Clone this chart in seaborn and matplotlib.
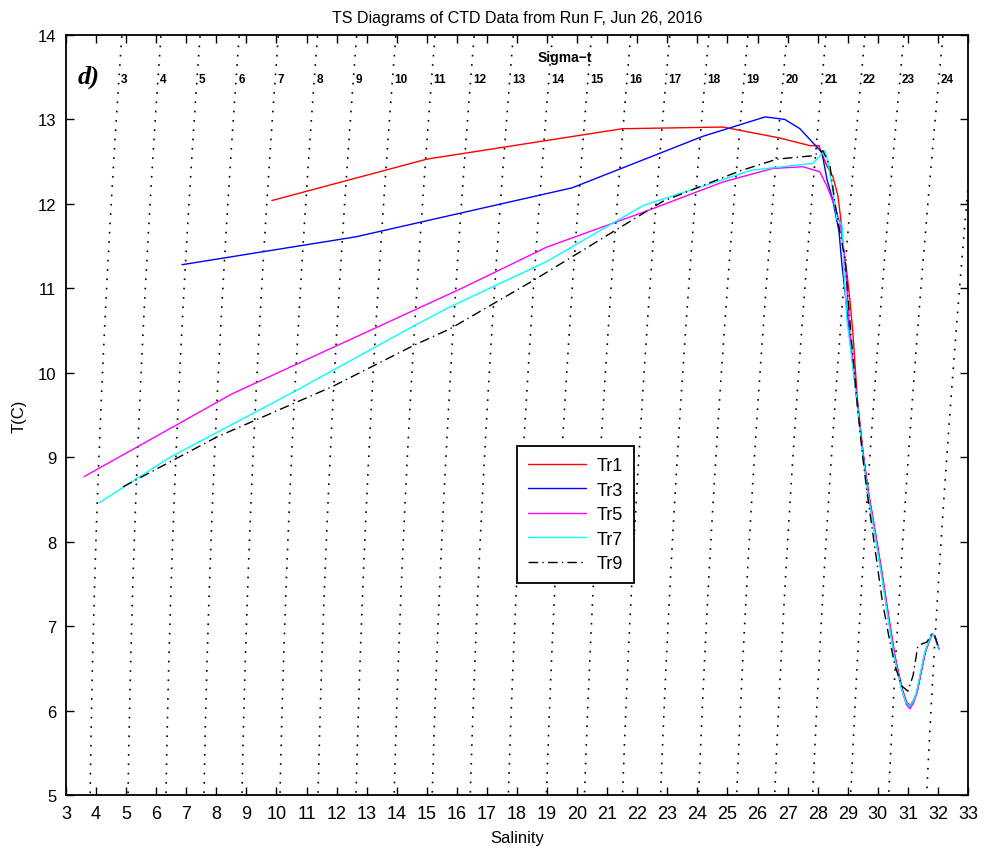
import numpy as np
import pandas as pd
import matplotlib
matplotlib.use("Agg")
import matplotlib.pyplot as plt
import seaborn as sns

# ---------------- data ----------------
tr1_S = [9.85, 15.0, 21.5, 24.85, 26.74, 27.74, 28.04, 28.14, 28.31, 28.51, 28.67, 28.77, 28.84, 28.97,
         29.07, 29.17, 29.32, 29.51, 29.69, 29.92, 30.16, 30.36, 30.59, 30.82, 30.96, 31.08, 31.20, 31.31,
         31.58, 31.80, 31.90, 32.03]
tr1_T = [12.04, 12.53, 12.89, 12.91, 12.78, 12.69, 12.69, 12.59, 12.45, 12.32, 12.10, 11.82, 11.50, 11.19,
         10.87, 10.48, 9.69, 9.06, 8.59, 8.11, 7.59, 7.12, 6.61, 6.25, 6.10, 6.06, 6.13, 6.22,
         6.69, 6.91, 6.88, 6.73]

tr3_S = [6.86, 12.64, 19.83, 24.18, 26.25, 26.91, 27.41, 28.14, 28.31, 28.50, 28.71, 28.81, 28.91,
         29.05, 29.30, 29.50, 29.67, 29.90, 30.14, 30.34, 30.57, 30.80, 30.95, 31.07, 31.20, 31.30,
         31.57, 31.80, 31.90, 32.03]
tr3_T = [11.28, 11.61, 12.19, 12.80, 13.03, 13.00, 12.89, 12.61, 12.29, 12.05, 11.67, 11.27, 10.96,
         10.48, 9.69, 9.06, 8.59, 8.11, 7.59, 7.12, 6.61, 6.25, 6.09, 6.05, 6.12, 6.22,
         6.69, 6.91, 6.88, 6.73]

tr5_S = [3.60, 8.52, 11.88, 16.10, 19.00, 22.19, 24.85, 26.51, 27.51, 28.07, 28.31, 28.57, 28.77, 28.92,
         29.07, 29.30, 29.50, 29.68, 29.91, 30.15, 30.35, 30.58, 30.81, 30.95, 31.07, 31.20, 31.30,
         31.57, 31.80, 31.90, 32.03]
tr5_T = [8.77, 9.75, 10.30, 10.99, 11.49, 11.90, 12.26, 12.42, 12.44, 12.38, 12.21, 11.97, 11.74, 11.30,
         10.48, 9.69, 9.06, 8.59, 8.11, 7.59, 7.12, 6.61, 6.24, 6.07, 6.02, 6.10, 6.21,
         6.69, 6.91, 6.88, 6.73]

tr7_S = [4.10, 6.46, 10.55, 14.54, 15.77, 19.00, 22.19, 25.81, 27.84, 28.24, 28.34, 28.51, 28.64, 28.81,
         28.84, 28.87, 28.97, 29.30, 29.49, 29.66, 29.89, 30.13, 30.33, 30.56, 30.79, 30.94, 31.06,
         31.19, 31.29, 31.56, 31.79, 31.89, 32.02]
tr7_T = [8.46, 9.00, 9.77, 10.55, 10.78, 11.32, 11.98, 12.40, 12.48, 12.63, 12.50, 12.14, 11.82, 11.75,
         11.58, 11.23, 10.64, 9.69, 9.06, 8.59, 8.11, 7.59, 7.12, 6.61, 6.25, 6.10, 6.05,
         6.12, 6.22, 6.69, 6.91, 6.88, 6.73]

tr9_S = [4.90, 8.02, 11.88, 14.54, 15.77, 18.53, 22.85, 25.41, 26.65, 27.84, 28.17, 28.41, 28.57, 28.74,
         28.91, 29.00, 29.10, 29.30, 29.48, 29.64, 29.83, 30.14, 30.34, 30.57, 30.80, 31.00, 31.17,
         31.33, 31.47, 31.63, 31.80, 31.90, 32.03]
tr9_T = [8.65, 9.24, 9.84, 10.32, 10.52, 11.09, 12.03, 12.39, 12.53, 12.57, 12.63, 12.45, 12.02, 11.67,
         11.35, 10.96, 10.48, 9.69, 9.06, 8.59, 8.11, 7.32, 6.93, 6.53, 6.29, 6.23, 6.41,
         6.76, 6.79, 6.81, 6.91, 6.88, 6.73]

series_names = ["Tr1", "Tr3", "Tr5", "Tr7", "Tr9"]
series_S = [tr1_S, tr3_S, tr5_S, tr7_S, tr9_S]
series_T = [tr1_T, tr3_T, tr5_T, tr7_T, tr9_T]
series_colors = ["#ff0000", "#0000ff", "#ff00ff", "#00ffff", "#000000"]
series_styles = ["-", "-", "-", "-", (0, (7, 3, 1, 3))]

sigma_levels = list(range(3, 25))          # labelled sigma-t contours
contour_levels = list(range(3, 26))        # contours drawn
xticks = list(range(3, 34))
yticks = list(range(5, 15))

title = "TS Diagrams of CTD Data from Run F, Jun 26, 2016"


# ---------------- sigma-t (UNESCO EOS-80, p = 0) ----------------
def sigma_t(S, T):
    rho_w = (999.842594 + 6.793952e-2 * T - 9.095290e-3 * T**2 + 1.001685e-4 * T**3
             - 1.120083e-6 * T**4 + 6.536332e-9 * T**5)
    A = 8.24493e-1 - 4.0899e-3 * T + 7.6438e-5 * T**2 - 8.2467e-7 * T**3 + 5.3875e-9 * T**4
    B = -5.72466e-3 + 1.0227e-4 * T - 1.6546e-6 * T**2
    C = 4.8314e-4
    return rho_w + A * S + B * S**1.5 + C * S**2 - 1000.0


# ---------------- figure ----------------
sns.set_theme(style="white")
plt.rcParams["font.family"] = ["Liberation Sans", "DejaVu Sans"]
plt.rcParams["text.color"] = "black"
plt.rcParams["axes.labelcolor"] = "black"
plt.rcParams["xtick.color"] = "black"
plt.rcParams["ytick.color"] = "black"

fig = plt.figure(figsize=(9.87, 8.53), dpi=100)
ax = fig.add_axes([66 / 987, 57 / 853, 902 / 987, 760 / 853])

# sigma-t contours
Sg = np.linspace(2.5, 33.5, 400)
Tg = np.linspace(4.5, 14.5, 200)
SS, TT = np.meshgrid(Sg, Tg)
sig = sigma_t(SS, TT)
ax.contour(SS, TT, sig, levels=contour_levels, colors="black",
           linewidths=1.2, linestyles=[(0, (1, 4.6))])

# contour labels along the top
T_lab = 13.48
row = sigma_t(Sg, np.full_like(Sg, T_lab))
for lev in sigma_levels:
    s_at = np.interp(lev, row, Sg)
    ax.annotate(str(lev), xy=(s_at, T_lab), xytext=(1.5, 0), textcoords="offset points",
                ha="left", va="center", fontsize=8.5, fontweight="bold")

ax.text(19.6, 13.74, "Sigma\u2212t", ha="center", va="center", fontsize=10, fontweight="bold")
ax.text(3.77, 13.51, "d)", ha="center", va="center", fontsize=19, fontweight="bold",
        fontstyle="italic", family=["Liberation Serif", "DejaVu Serif"])

# TS curves
for name, S, T, c, ls in zip(series_names, series_S, series_T, series_colors, series_styles):
    df = pd.DataFrame({"Salinity": S, "T": T})
    sns.lineplot(data=df, x="Salinity", y="T", sort=False, estimator=None, color=c,
                 linestyle=ls, linewidth=1.0, label=name, ax=ax)

ax.set_xlim(3, 33)
ax.set_ylim(5, 14)
ax.set_xticks(xticks)
ax.set_yticks(yticks)
ax.set_xticklabels([str(v) for v in xticks])
ax.set_yticklabels([str(v) for v in yticks])
ax.tick_params(axis="both", which="both", direction="in", bottom=True, top=True, left=True,
               right=True, length=6, width=1, color="black", labelsize=12)
ax.tick_params(axis="x", pad=7)
ax.tick_params(axis="y", pad=7)
for lbl in ax.get_xticklabels():
    lbl.set_fontfamily(["Liberation Sans Narrow", "Liberation Sans", "DejaVu Sans"])
    lbl.set_fontsize(13)
for sp in ax.spines.values():
    sp.set_color("black")
    sp.set_linewidth(1.3)

ax.set_xlabel("Salinity", fontsize=12, labelpad=6)
ax.set_ylabel("T(C)", fontsize=12, labelpad=8)
ax.set_title(title, fontsize=11.5, pad=9)

leg = ax.legend(loc="upper left", bbox_to_anchor=(0.5, 0.459), borderaxespad=0,
                fontsize=13, handlelength=3.2, labelspacing=0.42, handletextpad=0.6,
                frameon=True, fancybox=False, borderpad=0.6)
leg.get_frame().set_edgecolor("black")
leg.get_frame().set_linewidth(1.3)
leg.get_frame().set_facecolor("white")
leg.get_frame().set_alpha(1.0)

fig.savefig("out.png", dpi=100)
